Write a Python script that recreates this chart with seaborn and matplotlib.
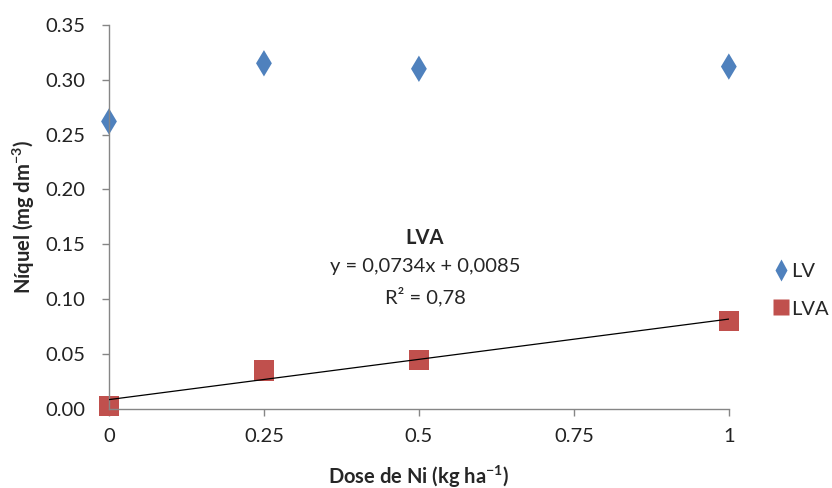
import pandas as pd
import seaborn as sns
import matplotlib.pyplot as plt

# Values
doses = [0, 0.25, 0.5, 1]
lv = [0.262, 0.315, 0.310, 0.312]
lva = [0.003, 0.035, 0.045, 0.080]

# Trend line for LVA (from the equation printed on the chart)
slope, intercept = 0.0734, 0.0085
trend_x = [0, 1]

df = pd.DataFrame({
    'Dose': doses * 2,
    'Niquel': lv + lva,
    'Solo': ['LV'] * len(lv) + ['LVA'] * len(lva),
})

sns.set_style('ticks')
plt.rcParams['font.family'] = ['Lato', 'DejaVu Sans']
plt.rcParams['mathtext.fontset'] = 'custom'
plt.rcParams['mathtext.rm'] = 'Lato'
plt.rcParams['mathtext.bf'] = 'Lato:bold'

colors = {'LV': '#4F81BD', 'LVA': '#C0504D'}
markers = {'LV': 'd', 'LVA': 's'}
sizes = {'LV': 180, 'LVA': 210}
fs = 14.5

fig = plt.figure(figsize=(8.32, 4.88), dpi=100)
ax = fig.add_axes([0.131, 0.162, 0.745, 0.787])

ax.plot(trend_x, [slope * x + intercept for x in trend_x], color='black', lw=0.9, zorder=3)

for solo in ['LV', 'LVA']:
    sub = df[df['Solo'] == solo]
    sns.scatterplot(data=sub, x='Dose', y='Niquel', ax=ax, color=colors[solo],
                    marker=markers[solo], s=sizes[solo], edgecolor='none',
                    clip_on=False, zorder=2, legend=False)

ax.set_xlim(0, 1)
ax.set_ylim(0, 0.35)
ax.set_xticks([0, 0.25, 0.5, 0.75, 1])
ax.set_xticklabels(['0', '0.25', '0.5', '0.75', '1'])
ax.set_yticks([0, 0.05, 0.10, 0.15, 0.20, 0.25, 0.30, 0.35])
ax.set_yticklabels(['0.00', '0.05', '0.10', '0.15', '0.20', '0.25', '0.30', '0.35'])
ax.tick_params(axis='both', colors='#868686', labelcolor='#222222', labelsize=fs, length=5, width=1)
ax.tick_params(axis='x', pad=9)
ax.tick_params(axis='y', pad=12)
for side in ['top', 'right']:
    ax.spines[side].set_visible(False)
for side in ['left', 'bottom']:
    ax.spines[side].set_color('#868686')
    ax.spines[side].set_linewidth(1)

ax.set_xlabel(r'Dose de Ni (kg ha$^{\mathbf{-1}}$)', fontsize=fs, fontweight='bold', labelpad=13)
ax.set_ylabel(r'Níquel (mg dm$^{\mathbf{-3}}$)', fontsize=fs, fontweight='bold', labelpad=6)

ax.text(0.51, 0.1555, 'LVA', fontsize=fs, fontweight='bold', ha='center', va='center')
ax.text(0.51, 0.1295, 'y = 0,0734x + 0,0085', fontsize=fs, ha='center', va='center')
ax.text(0.51, 0.1025, 'R² = 0,78', fontsize=fs, ha='center', va='center')

handles = [plt.Line2D([], [], ls='none', marker=markers[k], color=colors[k],
                      markersize=11, markeredgecolor='none') for k in ['LV', 'LVA']]
fig.legend(handles, ['LV', 'LVA'], loc='center left', bbox_to_anchor=(0.929, 0.405),
           frameon=False, fontsize=fs, labelspacing=1.0, handletextpad=0.1,
           handlelength=0.8, borderpad=0, borderaxespad=0)

plt.savefig('out.png', dpi=100)
plt.close()
